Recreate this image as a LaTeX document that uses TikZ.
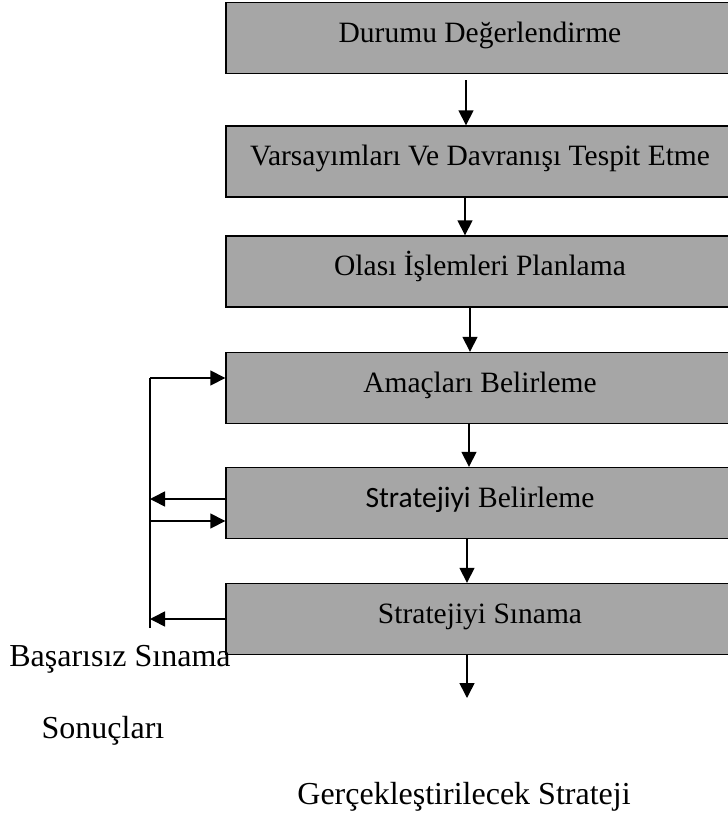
\documentclass[tikz,border=0pt]{standalone}
\usepackage{fontspec}
\setmainfont{Liberation Serif}
\newfontfamily\carlito{Carlito}
\usetikzlibrary{arrows.meta}

\definecolor{kutugri}{HTML}{A6A6A6}

\tikzset{
	adim/.style = {draw=black, line width=1.4pt, fill=kutugri, minimum width=508pt, minimum height=71pt, text height=20pt, text depth=12pt, inner sep=0pt},
	ok/.style = {-{Triangle[length=15pt,width=15pt]}, line width=1.6pt},
	etiket/.style = {inner sep=0pt, font=\fontsize{32}{38}\selectfont}
}

\begin{document}
\begin{tikzpicture}[x=1pt, y=-1pt, font=\fontsize{29.5}{34}\selectfont]
	\clip (0,0) rectangle (728,823);

	\node[adim] (durum) at (480,38) {Durumu Değerlendirme};
	\node[adim] (varsayim) at (480,161.5) {Varsayımları Ve Davranışı Tespit Etme};
	\node[adim] (islem) at (480,271.5) {Olası İşlemleri Planlama};
	\node[adim] (amac) at (480,388) {Amaçları Belirleme};
	\node[adim] (stratbel) at (480,503) {{\carlito Stratejiyi} Belirleme};
	\node[adim] (stratsin) at (480,619) {Stratejiyi Sınama};

	\coordinate (sonuc) at (467,698);
	\coordinate (geriust) at (150,378);
	\coordinate (gerialt) at (150,628);
	\coordinate (belcik) at ([yshift=4pt]stratbel.west);
	\coordinate (belgir) at ([yshift=-18pt]stratbel.west);

	\draw[ok, shorten <=6pt] ([xshift=-14pt]durum.south) -- ([xshift=-14pt]varsayim.north);
	\draw[ok] ([xshift=-15pt]varsayim.south) -- ([xshift=-15pt]islem.north);
	\draw[ok] ([xshift=-10pt]islem.south) -- ([xshift=-10pt]amac.north);
	\draw[ok] ([xshift=-11pt]amac.south) -- ([xshift=-11pt]stratbel.north);
	\draw[ok] ([xshift=-13pt]stratbel.south) -- ([xshift=-13pt]stratsin.north);
	\draw[ok] ([xshift=-13pt]stratsin.south) -- (sonuc);

	\draw[line width=1.6pt] (gerialt) -- (geriust);
	\draw[ok] (geriust) -- (geriust -| amac.west);
	\draw[ok] (belcik) -- (geriust |- belcik);
	\draw[ok] (geriust |- belgir) -- (belgir);
	\draw[ok] (stratsin.west) -- (geriust |- stratsin.west);

	\node[etiket] (basarisiz) at (120,659) {Başarısız Sınama};
	\node[etiket] (sonuclari) at (103,731) {Sonuçları};
	\node[etiket] (gercek) at (464,797) {Gerçekleştirilecek Strateji};
\end{tikzpicture}
\end{document}
